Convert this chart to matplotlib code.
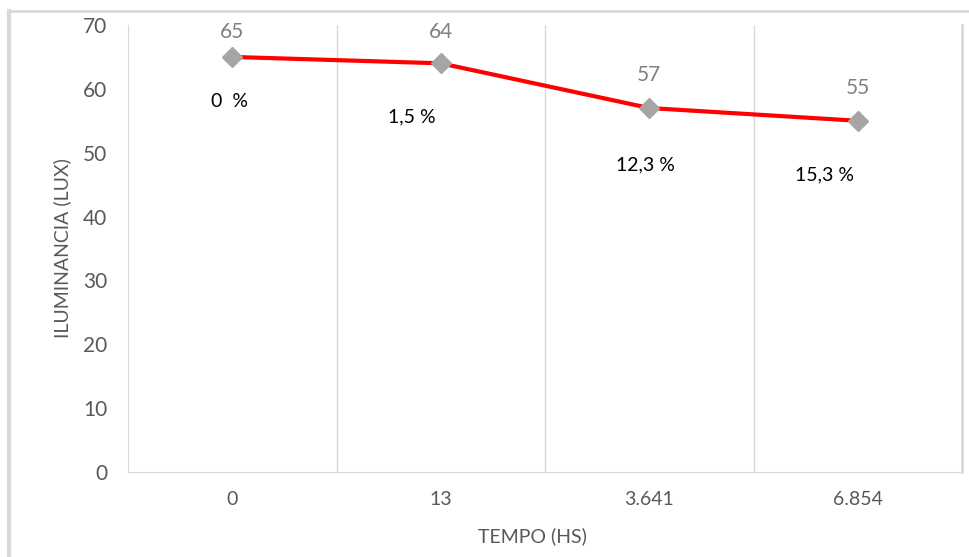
import matplotlib
matplotlib.use("Agg")
import matplotlib.pyplot as plt
from matplotlib.lines import Line2D

categories = ["0", "13", "3.641", "6.854"]
values = [65, 64, 57, 55]
pct_labels = ["0  %", "1,5 %", "12,3 %", "15,3 %"]
yticks = [0, 10, 20, 30, 40, 50, 60, 70]

plt.rcParams['font.family'] = ['Lato', 'DejaVu Sans']

fig = plt.figure(figsize=(9.69, 5.57), dpi=100)
ax = fig.add_axes([128/969, 1-472/557, (962-128)/969, (472-25)/557])

x = list(range(len(categories)))
ax.plot(x, values, color='#ff0000', lw=3, marker='D', markersize=10,
        markerfacecolor='#a5a5a5', markeredgecolor='#a5a5a5', zorder=3)

ax.set_xlim(-0.5, len(categories) - 0.5)
ax.set_ylim(0, 70)
ax.set_yticks(yticks)
ax.set_yticklabels([str(v) for v in yticks], fontsize=15, color='#595959')
ax.set_xticks(x)
ax.set_xticklabels(categories, fontsize=14, color='#595959')
ax.tick_params(axis='both', length=0)
ax.tick_params(axis='y', pad=15)
ax.tick_params(axis='x', pad=14)

for b in [0.5, 1.5, 2.5]:
    ax.axvline(b, color='#d9d9d9', lw=1, zorder=0)

ax.spines['top'].set_visible(False)
ax.spines['left'].set_color('#d9d9d9')
ax.spines['bottom'].set_color('#d9d9d9')
ax.spines['right'].set_color('#d9d9d9')
ax.spines['right'].set_linewidth(2)

ax.set_xlabel("TEMPO (HS)", fontsize=14, color='#595959')
ax.set_ylabel("ILUMINANCIA (LUX)", fontsize=14, color='#595959')
ax.xaxis.set_label_coords((532-128)/(962-128), -(536-472)/(472-25))
ax.yaxis.set_label_coords(-(128-62)/(962-128), 0.5)
ax.xaxis.label.set_va('center')
ax.yaxis.label.set_va('center')

# value labels above
val_offsets = [25, 31, 33, 33]
for xi, v, off in zip(x, values, val_offsets):
    ax.annotate(str(v), (xi, v), xytext=(0, off*0.72), textcoords='offset points',
                ha='center', va='center', fontsize=15, color='#808080',
                annotation_clip=False)

pct_offsets = [(-3, -45), (-29, -54), (-4, -57), (-33, -54)]
for xi, v, lab, (dx, dy) in zip(x, values, pct_labels, pct_offsets):
    ax.annotate(lab, (xi, v), xytext=(dx*0.72, dy*0.72), textcoords='offset points',
                ha='center', va='center', fontsize=14, color='#000000',
                annotation_clip=False)

# outer chart border (top and left visible)
fig.add_artist(Line2D([8.5/969, 1.0], [1-11/557, 1-11/557], color='#d9d9d9', lw=2,
                      transform=fig.transFigure))
fig.add_artist(Line2D([8.5/969, 8.5/969], [0, 1-11/557], color='#d9d9d9', lw=3,
                      transform=fig.transFigure))

fig.savefig("out.png", dpi=100)
